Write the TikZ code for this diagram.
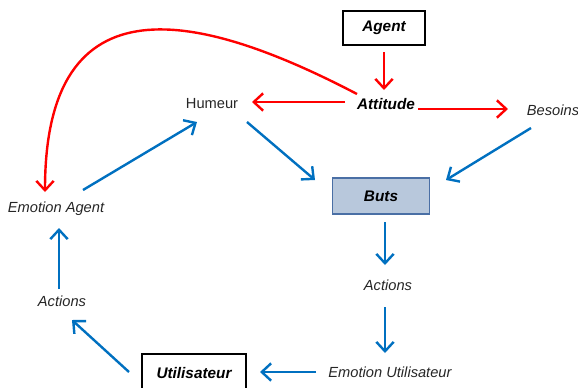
\documentclass[tikz,border=0pt]{standalone}
\usepackage{fontspec}
\setmainfont{Liberation Sans}
\usepackage{tikz}
\usetikzlibrary{arrows.meta,calc}
\definecolor{arrowred}{HTML}{FF0000}
\definecolor{arrowblue}{HTML}{0070C0}
\definecolor{butsfill}{HTML}{B8C8DC}
\definecolor{butsdraw}{HTML}{4A6FA5}
\definecolor{labelgray}{HTML}{262626}

\begin{document}
\begin{tikzpicture}[
    x=0.75pt, y=-0.75pt,
    font=\fontsize{11}{13}\selectfont,
    label/.style={text=labelgray, inner sep=2pt},
    soft/.style={label, font=\fontsize{11}{13}\selectfont\itshape},
    strong/.style={label, text=black, font=\fontsize{11.5}{13}\selectfont\bfseries\itshape},
    frame/.style={strong, draw=black, line width=1.3pt, minimum height=25.5pt},
    goal/.style={strong, draw=butsdraw, fill=butsfill, line width=1.1pt, minimum width=73pt, minimum height=27pt},
    redarrow/.style={draw=arrowred, line width=1.8pt, -{Straight Barb[length=7pt, width=13pt, line width=1.8pt]}},
    bluearrow/.style={draw=arrowblue, line width=1.8pt, -{Straight Barb[length=7pt, width=13pt, line width=1.8pt]}}
]
\useasboundingbox (0,0) rectangle (578,387);

\node[frame, minimum width=61.5pt] (agent) at (384,28) {Agent};
\node[strong] (attitude) at (386,104) {Attitude};
\node[label] (humeur) at (212,104) {Humeur};
\node[soft] (besoins) at (553,110) {Besoins};
\node[goal] (buts) at (381,196) {Buts};
\node[soft] (actionsR) at (388,285) {Actions};
\node[soft] (emoUser) at (390,372) {Emotion Utilisateur};
\node[frame, minimum width=78pt, minimum height=28pt] (user) at (194,373) {Utilisateur};
\node[soft] (actionsL) at (62,301) {Actions};
\node[soft] (emoAgent) at (56,209) {Emotion Agent};

% agent side
\draw[redarrow] ($(agent)+(0,24)$) -- ($(attitude)+(-2,-14)$);
\draw[redarrow] ($(attitude)+(-41,-2)$) -- ($(humeur)+(40,-2)$);
\draw[redarrow] ($(attitude)+(32,5)$) -- ($(besoins)+(-45,-1)$);
\draw[redarrow] ($(attitude)+(-29,-10)$) .. controls (200,12) and (45,-25) .. ($(emoAgent)+(-11,-17)$);

% goals and user loop
\draw[bluearrow] ($(humeur)+(35,18)$) -- ($(buts)+(-66,-16)$);
\draw[bluearrow] ($(besoins)+(-22,18)$) -- ($(buts)+(65,-16)$);
\draw[bluearrow] ($(emoAgent)+(27,-19)$) -- ($(humeur)+(-15,18)$);
\draw[bluearrow] ($(buts)+(4,26)$) -- ($(actionsR)+(-3,-20)$);
\draw[bluearrow] ($(actionsR)+(-3,22)$) -- ($(emoUser)+(-5,-19)$);
\draw[bluearrow] ($(emoUser)+(-74,0)$) -- ($(user)+(66,-1)$);
\draw[bluearrow] ($(user)+(-65,-1)$) -- ($(actionsL)+(10,19)$);
\draw[bluearrow] ($(actionsL)+(-3,-12)$) -- ($(emoAgent)+(3,19)$);
\end{tikzpicture}
\end{document}
